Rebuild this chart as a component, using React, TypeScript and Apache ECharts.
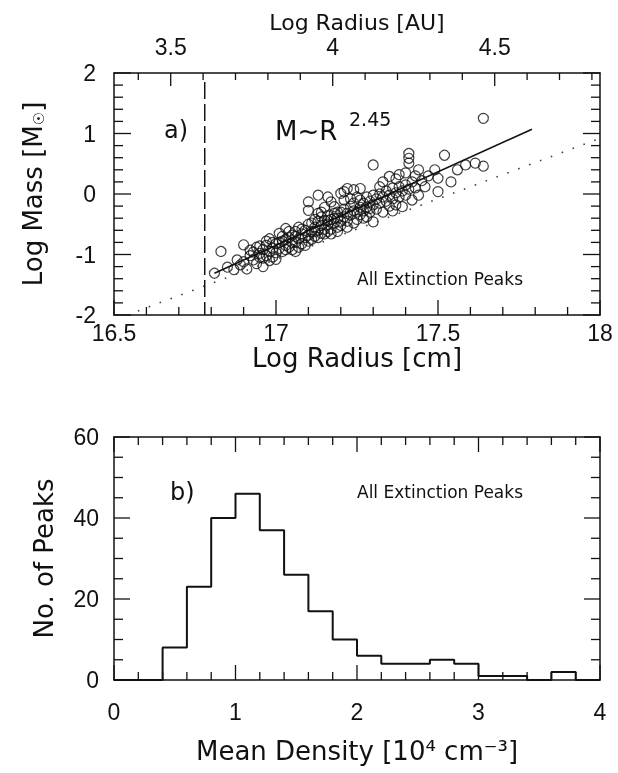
import React, { useEffect, useRef } from "react";
import * as echarts from "echarts";

// ---------- Data ----------
// Panel a): extinction peaks, [log R (cm), log M (Msun)]
const peaks: [number, number][] = [
  [16.81, -1.31], [16.83, -0.95], [16.85, -1.21], [16.87, -1.25], [16.88, -1.09], [16.89, -1.17],
  [16.9, -0.84], [16.9, -1.12], [16.91, -1.24], [16.92, -1.02], [16.92, -0.93],
  [16.93, -1.09], [16.93, -0.96], [16.94, -1.15], [16.94, -0.88], [16.95, -1.05], [16.95, -0.98],
  [16.96, -1.2], [16.96, -0.92], [16.97, -1.02], [16.97, -0.85], [16.98, -1.1], [16.98, -0.95],
  [16.99, -0.9], [16.99, -1.04], [17.0, -0.82], [17.0, -0.97], [17.0, -1.08], [16.97, -0.78],
  [16.95, -0.86], [16.98, -0.74], [16.96, -1.06], [16.99, -0.8],
  [17.01, -0.65], [17.01, -0.9], [17.02, -0.78], [17.02, -0.95], [17.03, -0.57], [17.03, -0.85],
  [17.04, -0.72], [17.04, -0.88], [17.05, -0.68], [17.05, -0.8], [17.06, -0.95], [17.06, -0.62],
  [17.07, -0.74], [17.07, -0.55], [17.08, -0.82], [17.08, -0.66], [17.09, -0.6], [17.09, -0.72],
  [17.1, -0.5], [17.1, -0.68], [17.02, -0.7], [17.04, -0.62], [17.06, -0.8], [17.08, -0.58],
  [17.1, -0.78], [17.03, -0.92], [17.05, -0.92], [17.07, -0.88], [17.01, -0.8], [17.09, -0.85],
  [17.06, -0.7], [17.03, -0.75],
  [17.1, -0.13], [17.13, -0.02], [17.17, -0.13], [17.2, 0.01], [17.22, 0.09], [17.1, -0.27],
  [17.13, -0.32], [17.18, -0.21], [17.24, 0.07], [17.15, -0.22], [17.12, -0.42], [17.16, -0.05],
  [17.19, -0.3], [17.21, -0.1],
  [17.11, -0.62], [17.11, -0.48], [17.12, -0.55], [17.12, -0.7], [17.13, -0.45], [17.13, -0.6],
  [17.14, -0.52], [17.14, -0.38], [17.15, -0.58], [17.15, -0.44], [17.16, -0.5], [17.16, -0.36],
  [17.17, -0.42], [17.17, -0.58], [17.18, -0.48], [17.18, -0.32], [17.19, -0.4], [17.19, -0.55],
  [17.2, -0.3], [17.2, -0.45], [17.11, -0.75], [17.13, -0.72], [17.15, -0.66], [17.17, -0.66],
  [17.19, -0.62], [17.14, -0.3], [17.16, -0.62], [17.18, -0.4], [17.12, -0.62], [17.14, -0.65],
  [17.16, -0.44], [17.2, -0.52],
  [17.21, -0.38], [17.21, -0.25], [17.22, -0.32], [17.22, -0.45], [17.23, -0.2], [17.23, -0.35],
  [17.24, -0.28], [17.24, -0.15], [17.25, -0.3], [17.25, -0.42], [17.26, -0.22], [17.26, -0.1],
  [17.26, 0.09], [17.27, -0.28], [17.27, -0.15], [17.28, -0.05], [17.28, -0.22], [17.29, -0.12],
  [17.29, -0.3], [17.3, -0.46], [17.3, -0.02], [17.3, -0.18], [17.22, -0.55], [17.24, -0.48],
  [17.28, -0.38], [17.3, 0.48], [17.25, -0.05], [17.27, -0.4], [17.21, 0.04], [17.23, -0.08],
  [17.26, -0.34], [17.29, -0.24],
  [17.31, -0.08], [17.31, -0.25], [17.32, 0.0], [17.32, -0.15], [17.33, -0.05], [17.33, -0.3],
  [17.34, 0.05], [17.34, -0.12], [17.35, -0.02], [17.35, -0.2], [17.36, 0.1], [17.36, -0.08],
  [17.37, 0.02], [17.37, -0.18], [17.38, 0.12], [17.38, -0.05], [17.39, -0.21], [17.39, 0.05],
  [17.4, 0.15], [17.4, -0.02], [17.41, 0.67], [17.41, 0.59], [17.41, 0.51], [17.41, 0.08],
  [17.42, 0.2], [17.42, -0.1], [17.43, 0.3], [17.43, 0.1], [17.44, -0.02], [17.44, 0.4],
  [17.45, 0.22], [17.35, 0.29], [17.37, 0.25], [17.33, 0.2], [17.32, 0.12], [17.38, 0.32],
  [17.4, 0.35], [17.36, -0.28],
  [17.46, 0.12], [17.47, 0.3], [17.49, 0.4], [17.5, 0.26], [17.5, 0.04], [17.52, 0.64],
  [17.54, 0.2], [17.56, 0.4], [17.585, 0.48], [17.615, 0.51], [17.64, 0.46], [17.64, 1.25],
];

// Fitted power law M ~ R^2.45 (end points)
const fitLine: [number, number][] = [
  [16.81, -1.31],
  [17.79, 1.07],
];
// Dotted line (constant column density), end points
const dottedLine: [number, number][] = [
  [16.54, -2.0],
  [18.0, 0.92],
];
// Dashed vertical line (resolution limit)
const dashedLine: [number, number][] = [
  [16.78, 1.85],
  [16.78, -2.0],
];

// Panel b): histogram of mean density (10^4 cm^-3), bin width 0.2
const binEdges = [0, 0.2, 0.4, 0.6, 0.8, 1.0, 1.2, 1.4, 1.6, 1.8, 2.0, 2.2, 2.4, 2.6, 2.8, 3.0, 3.2, 3.4, 3.6, 3.8];
const binCounts = [0, 0, 8, 23, 40, 46, 37, 26, 17, 10, 6, 4, 4, 5, 4, 1, 1, 0, 2, 0];
const histEnd = 4.0;

// Axis definitions / tick labels
const auTickLabels = ["3.5", "4", "4.5"];
const LOG_AU_IN_CM = 13.175; // log10(1 AU in cm)
const cmAxis = { min: 16.5, max: 18, major: 0.5, minor: 0.1 };
const auAxis = { min: 3.4, max: 4.8, major: 0.5, minor: 0.1 };
const massAxis = { min: -2, max: 2, major: 1, minor: 0.2 };
const densAxis = { min: 0, max: 4, major: 1, minor: 0.2 };
const countAxis = { min: 0, max: 60, major: 20, minor: 5 };

// ---------- Styles ----------
const INK = "#111";
const TICK_FONT = "Liberation Sans";
const TITLE_FONT = "DejaVu Sans";

type AxisDef = { min: number; max: number; major: number; minor: number };
function tickValues(a: AxisDef): { v: number; major: boolean }[] {
  const n = Math.round((a.max - a.min) / a.minor);
  const out: { v: number; major: boolean }[] = [];
  for (let i = 0; i <= n; i++) {
    const v = +(a.min + i * a.minor).toFixed(6);
    const r = v / a.major;
    out.push({ v, major: Math.abs(r - Math.round(r)) < 1e-6 });
  }
  return out;
}

export default function App() {
  const ref = useRef<HTMLDivElement>(null);

  useEffect(() => {
    if (!ref.current) return;
    const chart = echarts.init(ref.current, undefined, { renderer: "svg" });

    const histData: [number, number][] = binEdges.map((e, i) => [e, binCounts[i]]);
    histData.push([histEnd, binCounts[binCounts.length - 1]]);

    // Tick marks: anchor in data space + pixel offset of the tick's other end
    type Tick = { x: number; y: number; dx: number; dy: number };
    const ticksA: Tick[] = [];
    tickValues(cmAxis).forEach(({ v, major }) => ticksA.push({ x: v, y: massAxis.min, dx: 0, dy: -(major ? 15 : 8) }));
    tickValues(auAxis).forEach(({ v, major }) =>
      ticksA.push({ x: +(v + LOG_AU_IN_CM).toFixed(4), y: massAxis.max, dx: 0, dy: major ? 13 : 7 })
    );
    tickValues(massAxis).forEach(({ v, major }) => {
      ticksA.push({ x: cmAxis.min, y: v, dx: major ? 17 : 9, dy: 0 });
      ticksA.push({ x: cmAxis.max, y: v, dx: -(major ? 17 : 9), dy: 0 });
    });
    const ticksB: Tick[] = [];
    tickValues(densAxis).forEach(({ v, major }) => {
      ticksB.push({ x: v, y: countAxis.min, dx: 0, dy: -(major ? 15 : 8) });
      ticksB.push({ x: v, y: countAxis.max, dx: 0, dy: major ? 15 : 8 });
    });
    tickValues(countAxis).forEach(({ v, major }) => {
      ticksB.push({ x: densAxis.min, y: v, dx: major ? 16 : 9, dy: 0 });
      ticksB.push({ x: densAxis.max, y: v, dx: -(major ? 16 : 9), dy: 0 });
    });

    const makeRender = (list: Tick[]) => (params: any, api: any) => {
      const t = list[params.dataIndex];
      const p = api.coord([t.x, t.y]);
      return {
        type: "line",
        shape: { x1: p[0], y1: p[1], x2: p[0] + t.dx, y2: p[1] + t.dy },
        style: { stroke: INK, lineWidth: 1.3, fill: null },
        z2: 10,
      };
    };

    const tickLabel = () => ({ fontSize: 23, fontFamily: TICK_FONT, color: INK });
    const titleText = () => ({ fontSize: 26, fontFamily: TITLE_FONT, color: INK });
    const frameLine = () => ({ show: true, onZero: false, lineStyle: { color: INK, width: 1.5 } });
    const note = (text: string, left: number, top: number, size: number) => ({
      text,
      left,
      top,
      padding: 0,
      textStyle: { fontSize: size, fontFamily: TITLE_FONT, fontWeight: "normal", color: INK },
    });

    const option: any = {
      animation: false,
      title: [
        note("a)", 164, 118, 24),
        note("M~R", 275, 118, 26),
        note("2.45", 349, 109, 19),
        note("All Extinction Peaks", 357, 270, 17),
        note("b)", 170, 480, 24),
        note("All Extinction Peaks", 357, 483, 17),
      ],
      grid: [
        { left: 114, top: 73, width: 486, height: 242 },
        { left: 170.7, top: 73, width: 324, height: 242 },
        { left: 114, top: 437, width: 486, height: 243 },
      ],
      xAxis: [
        {
          gridIndex: 0,
          type: "value",
          min: cmAxis.min,
          max: cmAxis.max,
          interval: cmAxis.major,
          axisLine: frameLine(),
          axisTick: { show: false },
          splitLine: { show: false },
          axisLabel: { ...tickLabel(), margin: 6 },
          name: "Log Radius [cm]",
          nameLocation: "middle",
          nameGap: 30,
          nameTextStyle: titleText(),
        },
        {
          gridIndex: 0,
          type: "value",
          position: "top",
          min: cmAxis.min,
          max: cmAxis.max,
          interval: cmAxis.major,
          axisLine: frameLine(),
          axisTick: { show: false },
          axisLabel: { show: false },
          splitLine: { show: false },
          name: "Log Radius [AU]",
          nameLocation: "middle",
          nameGap: 40,
          nameTextStyle: { ...titleText(), fontSize: 22 },
        },
        {
          gridIndex: 1,
          type: "value",
          position: "top",
          min: 3.5,
          max: 4.5,
          interval: 0.5,
          axisLine: { show: false, onZero: false },
          axisTick: { show: false },
          axisLabel: {
            ...tickLabel(),
            margin: 15,
            formatter: (v: number) => auTickLabels[Math.round((v - 3.5) / 0.5)] ?? "",
          },
          splitLine: { show: false },
        },
        {
          gridIndex: 2,
          type: "value",
          min: densAxis.min,
          max: densAxis.max,
          interval: densAxis.major,
          axisLine: frameLine(),
          axisTick: { show: false },
          splitLine: { show: false },
          axisLabel: { ...tickLabel(), margin: 20 },
          name: "Mean Density [10⁴ cm⁻³]",
          nameLocation: "middle",
          nameGap: 58,
          nameTextStyle: titleText(),
        },
        {
          gridIndex: 2,
          type: "value",
          position: "top",
          min: densAxis.min,
          max: densAxis.max,
          interval: densAxis.major,
          axisLine: frameLine(),
          axisTick: { show: false },
          splitLine: { show: false },
          axisLabel: { show: false },
        },
      ],
      yAxis: [
        {
          gridIndex: 0,
          type: "value",
          min: massAxis.min,
          max: massAxis.max,
          interval: massAxis.major,
          axisLine: frameLine(),
          axisTick: { show: false },
          splitLine: { show: false },
          axisLabel: { ...tickLabel(), margin: 18 },
          name: "Log Mass [M{s|☉}]",
          nameLocation: "middle",
          nameGap: 68,
          nameRotate: 90,
          nameTextStyle: {
            ...titleText(),
            rich: { s: { fontSize: 15, fontFamily: TITLE_FONT, color: INK, verticalAlign: "bottom", padding: [12, 0, 0, 0] } },
          },
        },
        {
          gridIndex: 0,
          type: "value",
          position: "right",
          min: massAxis.min,
          max: massAxis.max,
          interval: massAxis.major,
          axisLine: frameLine(),
          axisTick: { show: false },
          splitLine: { show: false },
          axisLabel: { show: false },
        },
        { gridIndex: 1, type: "value", show: false, min: 0, max: 1 },
        {
          gridIndex: 2,
          type: "value",
          min: countAxis.min,
          max: countAxis.max,
          interval: countAxis.major,
          axisLine: frameLine(),
          axisTick: { show: false },
          splitLine: { show: false },
          axisLabel: { ...tickLabel(), margin: 15 },
          name: "No. of Peaks",
          nameLocation: "middle",
          nameGap: 57,
          nameRotate: 90,
          nameTextStyle: titleText(),
        },
        {
          gridIndex: 2,
          type: "value",
          position: "right",
          min: countAxis.min,
          max: countAxis.max,
          interval: countAxis.major,
          axisLine: frameLine(),
          axisTick: { show: false },
          splitLine: { show: false },
          axisLabel: { show: false },
        },
      ],
      series: [
        {
          type: "custom",
          xAxisIndex: 0,
          yAxisIndex: 0,
          data: ticksA.map((t) => [t.x, t.y]),
          renderItem: makeRender(ticksA),
          clip: false,
          silent: true,
          z: 10,
        },
        {
          type: "custom",
          xAxisIndex: 3,
          yAxisIndex: 3,
          data: ticksB.map((t) => [t.x, t.y]),
          renderItem: makeRender(ticksB),
          clip: false,
          silent: true,
          z: 10,
        },
        {
          type: "line",
          xAxisIndex: 0,
          yAxisIndex: 0,
          data: dottedLine,
          symbol: "none",
          lineStyle: { color: "#444", width: 1.6, type: [1.6, 10] },
        },
        {
          type: "line",
          xAxisIndex: 0,
          yAxisIndex: 0,
          data: dashedLine,
          symbol: "none",
          lineStyle: { color: INK, width: 1.5, type: [17, 5] },
        },
        {
          type: "scatter",
          xAxisIndex: 0,
          yAxisIndex: 0,
          data: peaks,
          symbol: "circle",
          symbolSize: 10,
          itemStyle: { color: "rgba(0,0,0,0)", borderColor: INK, borderWidth: 1.2 },
        },
        {
          type: "line",
          xAxisIndex: 0,
          yAxisIndex: 0,
          data: fitLine,
          symbol: "none",
          lineStyle: { color: INK, width: 1.6 },
        },
        {
          type: "line",
          xAxisIndex: 3,
          yAxisIndex: 3,
          data: histData,
          step: "end",
          symbol: "none",
          lineStyle: { color: INK, width: 2 },
        },
      ],
    };

    chart.setOption(option);
    return () => {
      chart.dispose();
    };
  }, []);

  return <div ref={ref} style={{ position: "fixed", left: 0, top: 0, width: 618, height: 773 }} />;
}
